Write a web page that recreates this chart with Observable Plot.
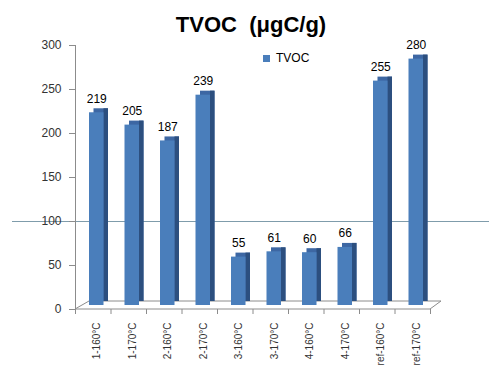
<!DOCTYPE html>
<html><head><meta charset="utf-8">
<script src="https://cdn.jsdelivr.net/npm/d3@7"></script>
<script src="https://cdn.jsdelivr.net/npm/@observablehq/plot@0.6"></script>
<style>
body{margin:0;background:#fff;}
#wrap{position:relative;width:489px;height:371px;font-family:"Liberation Sans",Arial,"Noto Sans CJK SC",sans-serif;}
#title{box-sizing:border-box;height:30px;padding-top:13px;padding-left:13px;line-height:24px;text-align:center;font-weight:bold;font-size:22px;color:#000;white-space:pre;overflow:visible;}
#legend{position:absolute;left:263px;top:50px;font-size:12px;line-height:16px;color:#000;display:flex;align-items:center;z-index:2;}
#legend span.sw{display:inline-block;width:7px;height:7px;background:#4a7ebb;margin-right:6px;}
#chart svg{display:block;}
</style></head><body>
<div id="wrap">
<div id="title">TVOC  (μgC/g)</div>
<div id="legend"><span class="sw"></span><span>TVOC</span></div>
<div id="chart"></div>
</div>
<script>
const categories = ["1-160°C","1-170°C","2-160°C","2-170°C","3-160°C","3-170°C","4-160°C","4-170°C","ref-160°C","ref-170°C"];
const values = [219,205,187,239,55,61,60,66,255,280];
const yTicks = [0,50,100,150,200,250,300];
const refLine = [100];

const data = categories.map((c, i) => ({c, i, v: values[i]}));
const edges = categories.map((_, i) => i).concat([categories.length]);

const floor = (index, scales, values, dim) => {
  const g = d3.create("svg:g");
  const y0 = scales.y(0);
  const fl = dim.marginLeft, fr = dim.width - dim.marginRight;
  g.append("path")
    .attr("d", `M${fl},${y0}L${fl+14},${y0-8}L${fr+11},${y0-8}L${fr},${y0}Z`)
    .attr("fill", "none").attr("stroke", "#8c8c8c").attr("stroke-width", 1);
  return g.node();
};

const plot = Plot.plot({
  width: 489, height: 341,
  marginTop: 15, marginBottom: 62, marginLeft: 75, marginRight: 59,
  style: {fontFamily: '"Liberation Sans", Arial, sans-serif', fontSize: "12px", background: "transparent"},
  x: {type: "linear", domain: [0, categories.length], axis: null},
  y: {domain: [0, 300], axis: null},
  marks: [
    Plot.ruleY(refLine, {stroke: "#7f9cab", strokeWidth: 1.2, insetLeft: -63, insetRight: -59}),
    floor,
    Plot.ruleX([0], {y1: 0, y2: 300, stroke: "#8c8c8c"}),
    Plot.axisY({ticks: yTicks, label: null, tickSize: 6, tickPadding: 8, stroke: "#8c8c8c", fill: "#333", fontSize: 12}),
    Plot.ruleX(edges, {x: d => d, y1: 0, y2: 0, insetBottom: -5, stroke: "#8c8c8c"}),
    Plot.rectY(data, {x1: "i", x2: d => d.i + 1, y: "v", insetLeft: 14, insetRight: 7, dx: 4.5, dy: -8, fill: "#3d67a3"}),
    Plot.rectY(data, {x1: "i", x2: d => d.i + 1, y: "v", insetLeft: 28.5, insetRight: 2.5, dy: -8, fill: "#2c4f7f"}),
    Plot.rectY(data, {x1: "i", x2: d => d.i + 1, y: "v", insetLeft: 14, insetRight: 7, dy: -4, fill: "#4a7ebb"}),
    Plot.text(data, {x: d => d.i + 0.5, y: "v", text: d => String(d.v), dy: -18, dx: 3.5, fontSize: 12, fill: "#000"}),
    Plot.text(data, {x: d => d.i + 0.5, y: 0, text: "c", rotate: -90, textAnchor: "end", dy: 13, dx: 4, fontSize: 10, fill: "#333"})
  ]
});
document.getElementById("chart").appendChild(plot);
</script>
</body></html>
